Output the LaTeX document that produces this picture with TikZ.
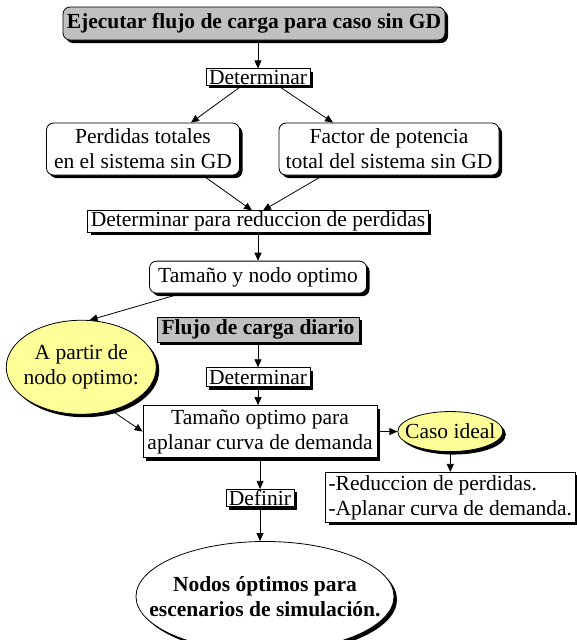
\documentclass[tikz,border=0pt]{standalone}
\usepackage{fontspec}
\setmainfont{Liberation Serif}
\usetikzlibrary{positioning,shapes.geometric,shadows,arrows.meta}

\newcommand\diagfont{\fontsize{21.5}{25}\selectfont}
\definecolor{headgray}{RGB}{192,192,192}
\definecolor{noteyellow}{RGB}{255,255,153}

\tikzset{
  shadowed/.style={drop shadow={shadow xshift=3pt,shadow yshift=-3pt,fill=black,opacity=1}},
  box/.style={draw,shadowed,fill=white,inner xsep=3pt,inner ysep=1pt,align=center,line width=0.8pt},
  roundbox/.style={box,rounded corners=7pt},
  headbox/.style={box,fill=headgray,font=\diagfont\bfseries},
  oval/.style={ellipse,draw,shadowed,fill=noteyellow,inner sep=0pt,line width=0.8pt},
  arr/.style={-{Triangle[length=8pt,width=7pt]},line width=0.8pt},
}

\begin{document}
\begin{tikzpicture}[x=1pt,y=-1pt,font=\diagfont]
  \useasboundingbox (0,0) rectangle (576,640);
  \node (title) [headbox, rounded corners=7pt, minimum width=382pt, minimum height=33pt] at (254,23.5) {Ejecutar flujo de carga para caso sin GD};
  \node (det1) [box, minimum width=101pt, minimum height=16pt, below=28pt of title, xshift=4pt] {Determinar};
  \node (losses) [roundbox, minimum width=193pt, minimum height=52pt, below=37pt of det1, xshift=-115pt] {Perdidas totales\\en el sistema sin GD};
  \node (pfactor) [roundbox, minimum width=220pt, minimum height=52pt, below=37pt of det1, xshift=131pt] {Factor de potencia\\total del sistema sin GD};
  \node (det2) [box, minimum width=337pt, minimum height=17pt, below=35pt of losses, xshift=115pt] {Determinar para reduccion de perdidas};
  \node (sizenode) [roundbox, minimum width=217pt, minimum height=32pt, below=28pt of det2] {Tamaño y nodo optimo};
  \node (daily) [headbox, minimum width=202pt, minimum height=25pt, below=23pt of sizenode] {Flujo de carga diario};
  \node (det3) [box, minimum width=99pt, minimum height=19pt, below=25pt of daily] {Determinar};
  \node (partir) [oval, minimum width=150pt, minimum height=94pt, left=49pt of det3, yshift=10pt,
    label={[align=center]center:A partir de\\nodo optimo:}] {};
  \node (flatten) [box, minimum width=234pt, minimum height=52pt, below=18pt of det3, xshift=2pt] {Tamaño optimo para\\aplanar curva de demanda};
  \node (ideal) [oval, minimum width=105pt, minimum height=40pt, right=20pt of flatten, label=center:Caso ideal] {};
  \node (goals) [box, align=left, minimum width=249pt, minimum height=50pt, below=20pt of ideal] {-Reduccion de perdidas.\\-Aplanar curva de demanda.};
  \node (define) [box, minimum width=64pt, minimum height=17pt, below=31pt of flatten] {Definir};
  \node (result) [oval, fill=white, minimum width=258pt, minimum height=110pt, below=34pt of define, xshift=5pt,
    label={[align=center,font=\diagfont\bfseries]center:Nodos óptimos para\\escenarios de simulación.}] {};

  \draw[arr] (det1 |- title.south) -- (det1);
  \draw[arr] ([xshift=-16pt]det1.south) -- ([xshift=48pt]losses.north);
  \draw[arr] ([xshift=20pt]det1.south) -- ([xshift=-56pt]pfactor.north);
  \draw[arr] ([xshift=60pt]losses.south) -- ([xshift=-6pt]det2.north);
  \draw[arr] ([xshift=-66pt]pfactor.south) -- ([xshift=5pt]det2.north);
  \draw[arr] (det2) -- (sizenode);
  \draw[arr] ([xshift=-77pt]sizenode.south) -- (partir.80);
  \draw[arr] (daily) -- (det3);
  \draw[arr] (det3) -- (det3 |- flatten.north);
  \draw[arr] (partir.-55) -- (flatten.west);
  \draw[arr] (flatten) -- (ideal);
  \draw[arr] (ideal) -- (goals);
  \draw[arr] (flatten) -- (define);
  \draw[arr] (define) -- (define |- result.north);
\end{tikzpicture}
\end{document}
